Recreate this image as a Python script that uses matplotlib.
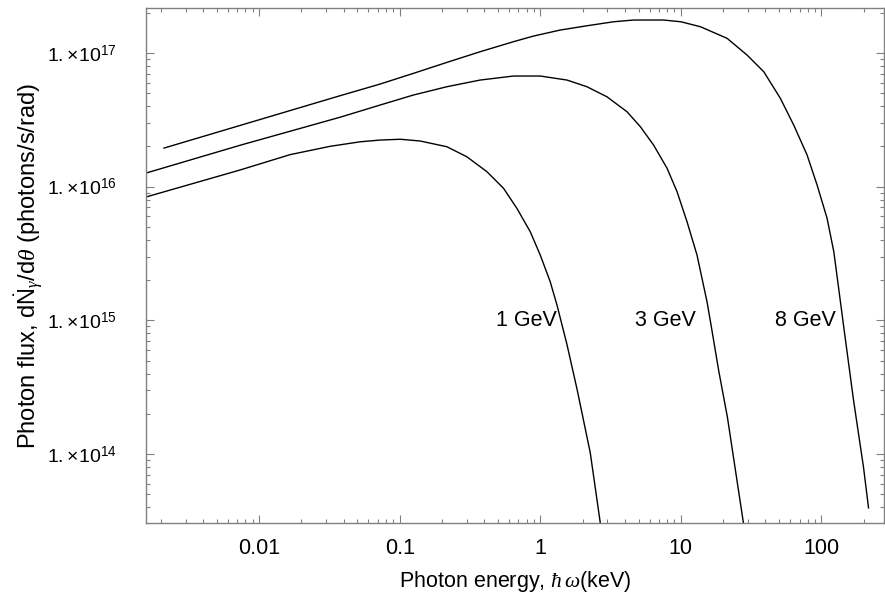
import numpy as np
import matplotlib
matplotlib.use("Agg")
import matplotlib.pyplot as plt
from matplotlib.ticker import LogLocator, FixedLocator, NullFormatter

plt.rcParams['font.family'] = ['Liberation Sans', 'DejaVu Sans']
plt.rcParams['mathtext.fontset'] = 'custom'
plt.rcParams['mathtext.rm'] = 'Liberation Sans'
plt.rcParams['mathtext.it'] = 'Liberation Serif:italic'
plt.rcParams['mathtext.bf'] = 'Liberation Sans:bold'

# log10 values (x in keV, y in photons/s/rad)
e1_logx = [-2.804, -2.135, -1.779, -1.495, -1.281, -1.139, -0.996, -0.854, -0.664, -0.522,
           -0.379, -0.261, -0.166, -0.071, 0.0, 0.071, 0.119, 0.19, 0.263, 0.356, 0.427]
e1_logy = [15.923, 16.125, 16.24, 16.302, 16.336, 16.349, 16.355, 16.342, 16.299, 16.224,
           16.112, 15.988, 15.838, 15.663, 15.489, 15.289, 15.115, 14.82, 14.479, 14.008, 13.485]

e3_logx = [-2.804, -2.135, -1.423, -1.139, -0.902, -0.664, -0.427, -0.19, 0.0, 0.19,
           0.332, 0.474, 0.617, 0.712, 0.806, 0.902, 0.973, 1.044, 1.115, 1.186,
           1.21, 1.27, 1.331, 1.402, 1.445]
e3_logy = [16.102, 16.31, 16.52, 16.611, 16.686, 16.748, 16.798, 16.828, 16.828, 16.798,
           16.748, 16.673, 16.561, 16.449, 16.312, 16.138, 15.963, 15.738, 15.489, 15.140,
           14.995, 14.62, 14.277, 13.784, 13.485]

e8_logx = [-2.676, -1.423, -1.139, -0.902, -0.664, -0.427, -0.19, -0.048, 0.142, 0.332,
           0.522, 0.664, 0.877, 1.0, 1.139, 1.329, 1.471, 1.59, 1.708, 1.803,
           1.898, 1.969, 2.04, 2.088, 2.135, 2.16, 2.228, 2.299, 2.335]
e8_logy = [16.289, 16.681, 16.768, 16.848, 16.930, 17.010, 17.085, 17.127, 17.172, 17.204,
           17.234, 17.247, 17.247, 17.234, 17.197, 17.110, 16.985, 16.860, 16.661, 16.461,
           16.237, 16.013, 15.764, 15.514, 15.140, 14.94, 14.405, 13.903, 13.597]

labels = ['1 GeV', '3 GeV', '8 GeV']
label_x = [0.80, 7.8, 77.0]
label_y = [1.0e15, 1.0e15, 1.0e15]

xticks = [0.01, 0.1, 1, 10, 100]
xticklabels = ['0.01', '0.1', '1', '10', '100']
yticks = [1e14, 1e15, 1e16, 1e17]
yticklabels = [r'$1.\!\times\!10^{14}$', r'$1.\!\times\!10^{15}$',
               r'$1.\!\times\!10^{16}$', r'$1.\!\times\!10^{17}$']

W, H = 885, 593
fig = plt.figure(figsize=(W / 100, H / 100), dpi=100)
ax = fig.add_axes([146 / W, 1 - 523 / H, (884 - 146) / W, (523 - 8) / H])

for lx, ly in [(e1_logx, e1_logy), (e3_logx, e3_logy), (e8_logx, e8_logy)]:
    ax.plot(10 ** np.array(lx), 10 ** np.array(ly), color='black', lw=1.0)

ax.set_xscale('log')
ax.set_yscale('log')
ax.set_xlim(10 ** -2.804, 10 ** 2.445)
ax.set_ylim(10 ** 13.484, 10 ** 17.337)

for t, x, y in zip(labels, label_x, label_y):
    ax.text(x, y, t, fontsize=15.5, ha='center', va='center')

frame_c = '#808080'
for s in ax.spines.values():
    s.set_color(frame_c)
    s.set_linewidth(1.0)

ax.xaxis.set_major_locator(FixedLocator(xticks))
ax.set_xticklabels(xticklabels)
ax.yaxis.set_major_locator(FixedLocator(yticks))
ax.set_yticklabels(yticklabels)
ax.xaxis.set_minor_locator(LogLocator(base=10, subs=np.arange(2, 10)))
ax.yaxis.set_minor_locator(LogLocator(base=10, subs=np.arange(2, 10)))
ax.xaxis.set_minor_formatter(NullFormatter())
ax.yaxis.set_minor_formatter(NullFormatter())

ax.tick_params(which='both', direction='in', top=True, right=True, color=frame_c, width=0.8)
ax.tick_params(which='major', length=6)
ax.tick_params(which='minor', length=3)
ax.tick_params(axis='x', which='major', labelsize=15.5, pad=11)
ax.tick_params(axis='y', which='major', labelsize=14, pad=21)

ax.set_xlabel(r'Photon energy, $\hbar\,\omega$(keV)', fontsize=15.5)
ax.xaxis.set_label_coords(0.5, -(569 - 523) / (523 - 8))
ax.set_ylabel(r'Photon flux, d$\dot{\mathrm{N}}_{\gamma}$/d$\theta$ (photons/s/rad)', fontsize=17)
ax.yaxis.set_label_coords(-(146 - 46) / (884 - 146), 0.5)

fig.savefig('out.png', dpi=100)
